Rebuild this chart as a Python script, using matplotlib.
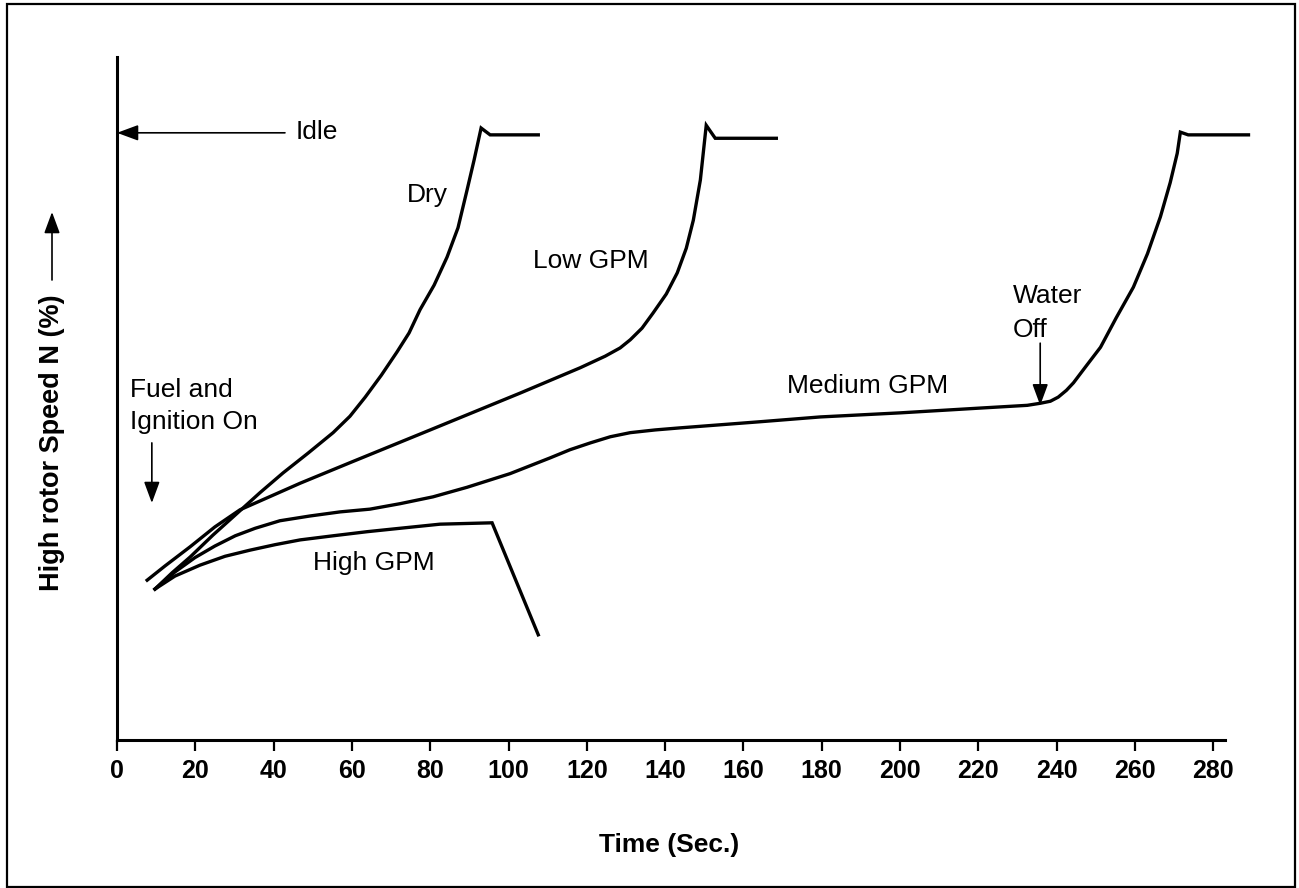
import matplotlib
matplotlib.use("Agg")
import matplotlib.pyplot as plt
from matplotlib.patches import Rectangle

plt.rcParams['font.family'] = ['Liberation Sans', 'DejaVu Sans']

# Time (s) and rotor speed (relative units, 0-100 of axis height)
dry_t = [9.7, 14.1, 18.7, 24.5, 30.7, 36.5, 42.4, 48.8, 55.2, 59.5, 63.4, 67.5, 71.5,
         74.6, 77.4, 81.0, 84.3, 87.1, 89.4, 91.2, 93.0, 95.3, 107.6]
dry_n = [22.1, 24.5, 26.8, 30.0, 33.2, 36.2, 39.1, 42.0, 45.0, 47.4, 50.2, 53.4, 56.8,
         59.6, 63.0, 66.6, 70.7, 75.0, 80.5, 84.9, 89.6, 88.6, 88.6]

low_t = [7.7, 12.3, 18.7, 25.0, 31.4, 46.8, 59.5, 80.0, 103.0, 118.3, 124.7, 128.5, 131.1,
         134.1, 136.9, 140.3, 143.1, 145.4, 147.2, 149.0, 150.5, 152.8, 168.4]
low_n = [23.4, 25.5, 28.3, 31.2, 33.7, 37.6, 40.6, 45.4, 50.8, 54.5, 56.2, 57.4, 58.6,
         60.3, 62.5, 65.3, 68.4, 72.0, 76.1, 82.0, 90.0, 88.1, 88.1]

med_t = [9.7, 14.8, 19.9, 25.0, 30.2, 35.3, 41.6, 49.3, 57.0, 64.6, 72.3, 80.7, 89.4,
         100.4, 110.6, 115.7, 120.9, 126.0, 131.1, 137.5, 143.8, 164.3, 179.6, 200.1, 220.5,
         232.5, 235.8, 238.4, 240.4, 242.5, 244.3, 247.6, 251.2, 255.2, 259.6, 263.2,
         266.5, 269.0, 270.8, 271.6, 273.6, 289.0]
med_n = [22.1, 24.6, 26.7, 28.4, 29.9, 31.0, 32.1, 32.8, 33.4, 33.8, 34.6, 35.6, 37.0,
         39.0, 41.3, 42.5, 43.5, 44.4, 45.0, 45.4, 45.7, 46.6, 47.3, 47.9, 48.6,
         49.0, 49.3, 49.6, 50.2, 51.2, 52.3, 54.8, 57.5, 61.8, 66.3, 71.2,
         76.6, 81.6, 85.9, 89.0, 88.6, 88.6]

high_t = [9.7, 14.8, 21.2, 27.6, 34.0, 40.4, 46.8, 55.2, 63.9, 72.3, 82.5, 95.8, 107.6]
high_n = [22.1, 24.0, 25.6, 26.9, 27.8, 28.6, 29.3, 29.9, 30.5, 31.0, 31.6, 31.8, 15.4]

xticks = list(range(0, 281, 20))

fig = plt.figure(figsize=(12.99, 8.88), dpi=100)
ax = fig.add_axes([117 / 1299, 148 / 888, 1108 / 1299, 683 / 888])

for t, n in [(dry_t, dry_n), (low_t, low_n), (med_t, med_n), (high_t, high_n)]:
    ax.plot(t, n, color='black', lw=2.4, clip_on=False, solid_joinstyle='miter')

ax.set_xlim(0, 283)
ax.set_ylim(0, 100)
ax.spines['top'].set_visible(False)
ax.spines['right'].set_visible(False)
ax.spines['left'].set_linewidth(2.2)
ax.spines['bottom'].set_linewidth(2.2)
ax.set_yticks([])
ax.set_xticks(xticks)
ax.tick_params(axis='x', direction='out', length=8, width=1.6, pad=6)
for lab in ax.get_xticklabels():
    lab.set_fontsize(18)
    lab.set_fontweight('bold')

txt = dict(fontsize=19, color='black', va='baseline', ha='left')
arr = dict(arrowstyle='-|>,head_length=0.65,head_width=0.24', color='black',
           lw=1.2, mutation_scale=20, shrinkA=0, shrinkB=0)

ax.text(45.5, 88.0, 'Idle', **txt)
ax.annotate('', xy=(0, 88.9), xytext=(42.9, 88.9), arrowprops=arr)
ax.text(74.1, 78.8, 'Dry', **txt)
ax.text(106.3, 69.1, 'Low GPM', **txt)
ax.text(171.2, 50.8, 'Medium GPM', **txt)
ax.text(228.9, 64.0, 'Water', **txt)
ax.text(228.9, 59.0, 'Off', **txt)
ax.annotate('', xy=(235.8, 49.0), xytext=(235.8, 58.1), arrowprops=arr)
ax.text(50.1, 24.9, 'High GPM', **txt)
ax.text(3.3, 50.2, 'Fuel and', **txt)
ax.text(3.3, 45.6, 'Ignition On', **txt)
ax.annotate('', xy=(8.9, 34.7), xytext=(8.9, 43.5), arrowprops=arr)

# axis titles
fig.text(52 / 1299, 1 - 443 / 888, 'High rotor Speed N (%)', rotation=90,
         ha='center', va='center', fontsize=19.5, fontweight='bold')
ax.annotate('', xy=(52 / 1299, 1 - 212 / 888), xytext=(52 / 1299, 1 - 280 / 888),
            xycoords='figure fraction', textcoords='figure fraction', arrowprops=arr)
fig.text(669 / 1299, 1 - 845 / 888, 'Time (Sec.)', ha='center', va='center',
         fontsize=19, fontweight='bold')

# outer frame
fig.add_artist(Rectangle((7 / 1299, 1 / 888), 1288 / 1299, 883 / 888, transform=fig.transFigure,
                         fill=False, lw=1.6, edgecolor='black'))

fig.savefig('out.png', dpi=100)
